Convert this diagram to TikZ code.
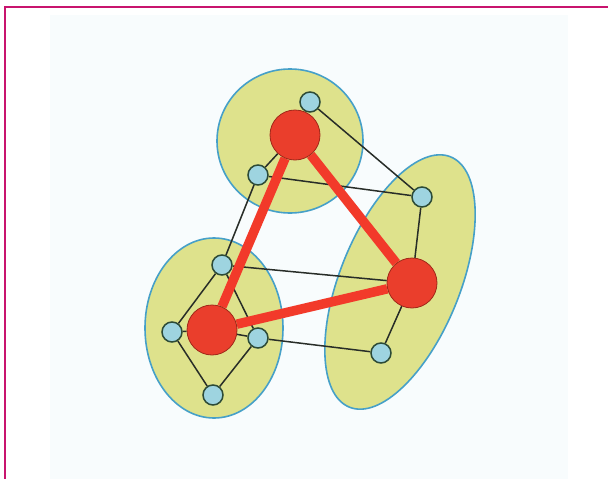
\documentclass[tikz,border=0pt]{standalone}
\usetikzlibrary{backgrounds}
\pgfdeclarelayer{edges}
\pgfsetlayers{background,edges,main}
\definecolor{framecol}{RGB}{200,20,110}
\definecolor{panelcol}{RGB}{248,252,253}
\definecolor{groupfill}{RGB}{222,226,140}
\definecolor{groupline}{RGB}{70,160,200}
\definecolor{smallfill}{RGB}{158,212,224}
\definecolor{smallline}{RGB}{45,75,55}
\definecolor{bigfill}{RGB}{234,62,44}
\definecolor{bigline}{RGB}{160,40,25}
\definecolor{redlink}{RGB}{242,58,42}
\definecolor{blacklink}{RGB}{40,45,40}
\begin{document}
\begin{tikzpicture}[x=1pt,y=-1pt,
  group/.style={fill=groupfill,draw=groupline,line width=1.6pt},
  small/.style={circle,fill=smallfill,draw=smallline,line width=1.5pt,minimum size=20pt,inner sep=0pt},
  big/.style={circle,fill=bigfill,draw=bigline,line width=0.8pt,minimum size=50pt,inner sep=0pt},
  link/.style={draw=blacklink,line width=1.5pt},
  redl/.style={draw=redlink,line width=9.5pt}]
\useasboundingbox (0,0) rectangle (608,479);
% nodes
\node[big] (T) at (295,135) {};
\node[big] (L) at (212,330) {};
\node[big] (R) at (412,283) {};
\node[small] (t1) at (310,102) {};
\node[small] (t2) at (258,175) {};
\node[small] (r1) at (422,197) {};
\node[small] (r2) at (381,353) {};
\node[small] (l1) at (222,265) {};
\node[small] (l2) at (172,332) {};
\node[small] (l3) at (258,338) {};
\node[small] (l4) at (213,395) {};
% frame, panel and groups
\begin{pgfonlayer}{background}
\fill[panelcol] (50,15) rectangle (568,479);
\coordinate (ftl) at (5,6.5);
\coordinate (ftr) at (608,6.5);
\coordinate (fbl) at (5,479);
\draw[framecol,line width=2pt] (fbl) -- (ftl) -- (ftr);
\path[group] (290,141) ellipse [x radius=73, y radius=72];
\path[group] (214,328) ellipse [x radius=69, y radius=90];
\path[group,rotate around={68:(400,282)}] (400,282) ellipse [x radius=135, y radius=60];
\end{pgfonlayer}
% links
\begin{pgfonlayer}{edges}
\path[link] (t1) -- (T);
\path[link] (t1) -- (r1);
\path[link] (T) -- (t2);
\path[link] (t2) -- (r1);
\path[link] (t2) -- (l1);
\path[link] (l1) -- (R);
\path[link] (l1) -- (l2);
\path[link] (l1) -- (l3);
\path[link] (l2) -- (l4);
\path[link] (l3) -- (l4);
\path[link] (l2) -- (L);
\path[link] (l3) -- (L);
\path[link] (l3) -- (r2);
\path[link] (r1) -- (R);
\path[link] (R) -- (r2);
\path[redl] (T) -- (L);
\path[redl] (T) -- (R);
\path[redl] (L) -- (R);
\end{pgfonlayer}
\end{tikzpicture}
\end{document}
